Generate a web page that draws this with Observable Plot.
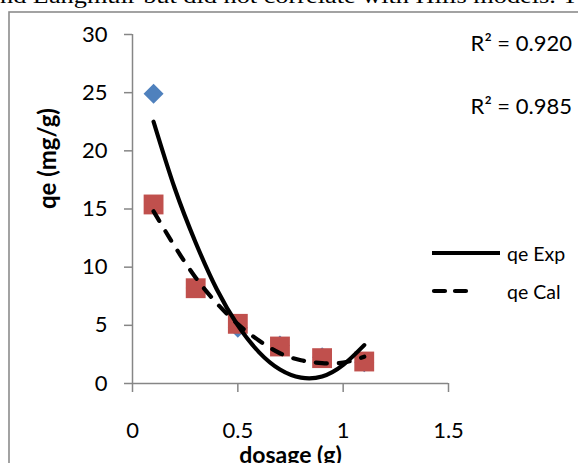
<!DOCTYPE html>
<html>
<head>
<meta charset="utf-8">
<script src="https://cdn.jsdelivr.net/npm/d3@7"></script>
<script src="https://cdn.jsdelivr.net/npm/@observablehq/plot@0.6"></script>
<style>
  html, body { margin: 0; padding: 0; background: #fff; overflow: hidden; }
  #wrap { position: relative; width: 578px; height: 463px; overflow: hidden; }
  #wrap svg { position: absolute; left: 0; top: 0; }
</style>
</head>
<body>
<div id="wrap"></div>
<script>
// ---- data ----
const dosage = [0.1, 0.3, 0.5, 0.7, 0.9, 1.1];
const qeExp = [24.9, 8.2, 4.8, 3.27, 2.26, 1.83];
const qeCal = [15.39, 8.19, 5.13, 3.18, 2.18, 1.89];

// trendline shapes
const fitX = [0.1, 0.2, 0.3, 0.4, 0.5, 0.6, 0.7, 0.8, 0.9, 1.0, 1.1];
const fitExp = [22.5, 16.8, 12.1, 8.1, 5.0, 2.7, 1.2, 0.5, 0.6, 1.6, 3.3];
const fitCal = [14.8, 11.8, 9.1, 6.9, 5.1, 3.7, 2.6, 2.0, 1.75, 1.8, 2.3];

const xTicks = [0, 0.5, 1, 1.5];
const yTicks = [0, 5, 10, 15, 20, 25, 30];
const r2Labels = ["R² = 0.920", "R² = 0.985"];
const legendLabels = ["qe Exp", "qe Cal"];
const xTitle = "dosage (g)";
const yTitle = "qe (mg/g)";
const topText = "nd Langmuir but did not correlate with Hills models. T";

const pts = (ys) => dosage.map((x, i) => ({x, y: ys[i]}));
const fit = (ys) => fitX.map((x, i) => ({x, y: ys[i]}));

const axisGray = "#868686";

const chart = Plot.plot({
  width: 578,
  height: 463,
  marginLeft: 132,
  marginRight: 130,
  marginTop: 34,
  marginBottom: 80,
  style: {fontFamily: "Lato, 'Open Sans', sans-serif", fontSize: "22px", color: "#000", background: "transparent"},
  x: {domain: [0, 1.5]},
  y: {domain: [0, 30]},
  marks: [
    Plot.axisX({ticks: xTicks, tickFormat: d => String(d), tickSize: 9, tickPadding: 30, stroke: axisGray, strokeWidth: 1.5, fill: "#000", label: null}),
    Plot.axisY({ticks: yTicks, tickFormat: d => String(d), tickSize: 8, tickPadding: 17, stroke: axisGray, strokeWidth: 1.5, fill: "#000", label: null}),
    Plot.ruleY([0], {stroke: axisGray, strokeWidth: 1.5}),
    Plot.ruleX([0], {stroke: axisGray, strokeWidth: 1.5}),
    Plot.dot(pts(qeExp), {x: "x", y: "y", symbol: "diamond2", r: 9, fill: "#4F81BD", stroke: "none"}),
    Plot.dot(pts(qeCal), {x: "x", y: "y", symbol: "square", r: 11.2, fill: "#C0504D", stroke: "none"}),
    Plot.line(fit(fitCal), {x: "x", y: "y", curve: "natural", stroke: "#000", strokeWidth: 4.2, strokeDasharray: "11,12", strokeLinecap: "round"}),
    Plot.line(fit(fitExp), {x: "x", y: "y", curve: "natural", stroke: "#000", strokeWidth: 4.2, strokeLinecap: "round"}),
    Plot.text([xTitle], {frameAnchor: "bottom", dy: 72, lineAnchor: "middle", fontWeight: "bold", fontSize: 23}),
    Plot.text([yTitle], {frameAnchor: "left", dx: -84, rotate: -90, lineAnchor: "middle", fontWeight: "bold", fontSize: 24})
  ]
});

const wrap = document.getElementById("wrap");
wrap.appendChild(chart);

// overlay: frame, cut-off body text, trendline labels, legend
const ns = "http://www.w3.org/2000/svg";
const ov = d3.create("svg").attr("xmlns", ns).attr("width", 578).attr("height", 463)
  .style("font-family", "Lato, 'Open Sans', sans-serif");

ov.append("rect").attr("x", 9).attr("y", 12).attr("width", 700).attr("height", 600)
  .attr("fill", "none").attr("stroke", "#8c8c8c").attr("stroke-width", 1.6);

ov.append("text").attr("x", 0).attr("y", 3).attr("font-family", "'Liberation Serif', 'DejaVu Serif', serif")
  .attr("font-size", 22).attr("textLength", 578).attr("lengthAdjust", "spacingAndGlyphs")
  .text(topText);

r2Labels.forEach((t, i) => {
  ov.append("text").attr("x", 572).attr("y", 42 + i * 63).attr("text-anchor", "end")
    .attr("dominant-baseline", "central").attr("font-size", 22).attr("fill", "#000").text(t);
});

legendLabels.forEach((t, i) => {
  const y = 253 + i * 38;
  const ln = ov.append("line").attr("x1", i ? 434 : 432).attr("x2", i ? 476 : 500).attr("y1", y).attr("y2", y)
    .attr("stroke", "#000").attr("stroke-width", 4.2);
  if (i) ln.attr("stroke-dasharray", "11,10").attr("stroke-linecap", "round");
  ov.append("text").attr("x", 507).attr("y", y).attr("dominant-baseline", "central")
    .attr("font-size", 19.5).attr("fill", "#000").text(t);
});

wrap.appendChild(ov.node());
</script>
</body>
</html>
